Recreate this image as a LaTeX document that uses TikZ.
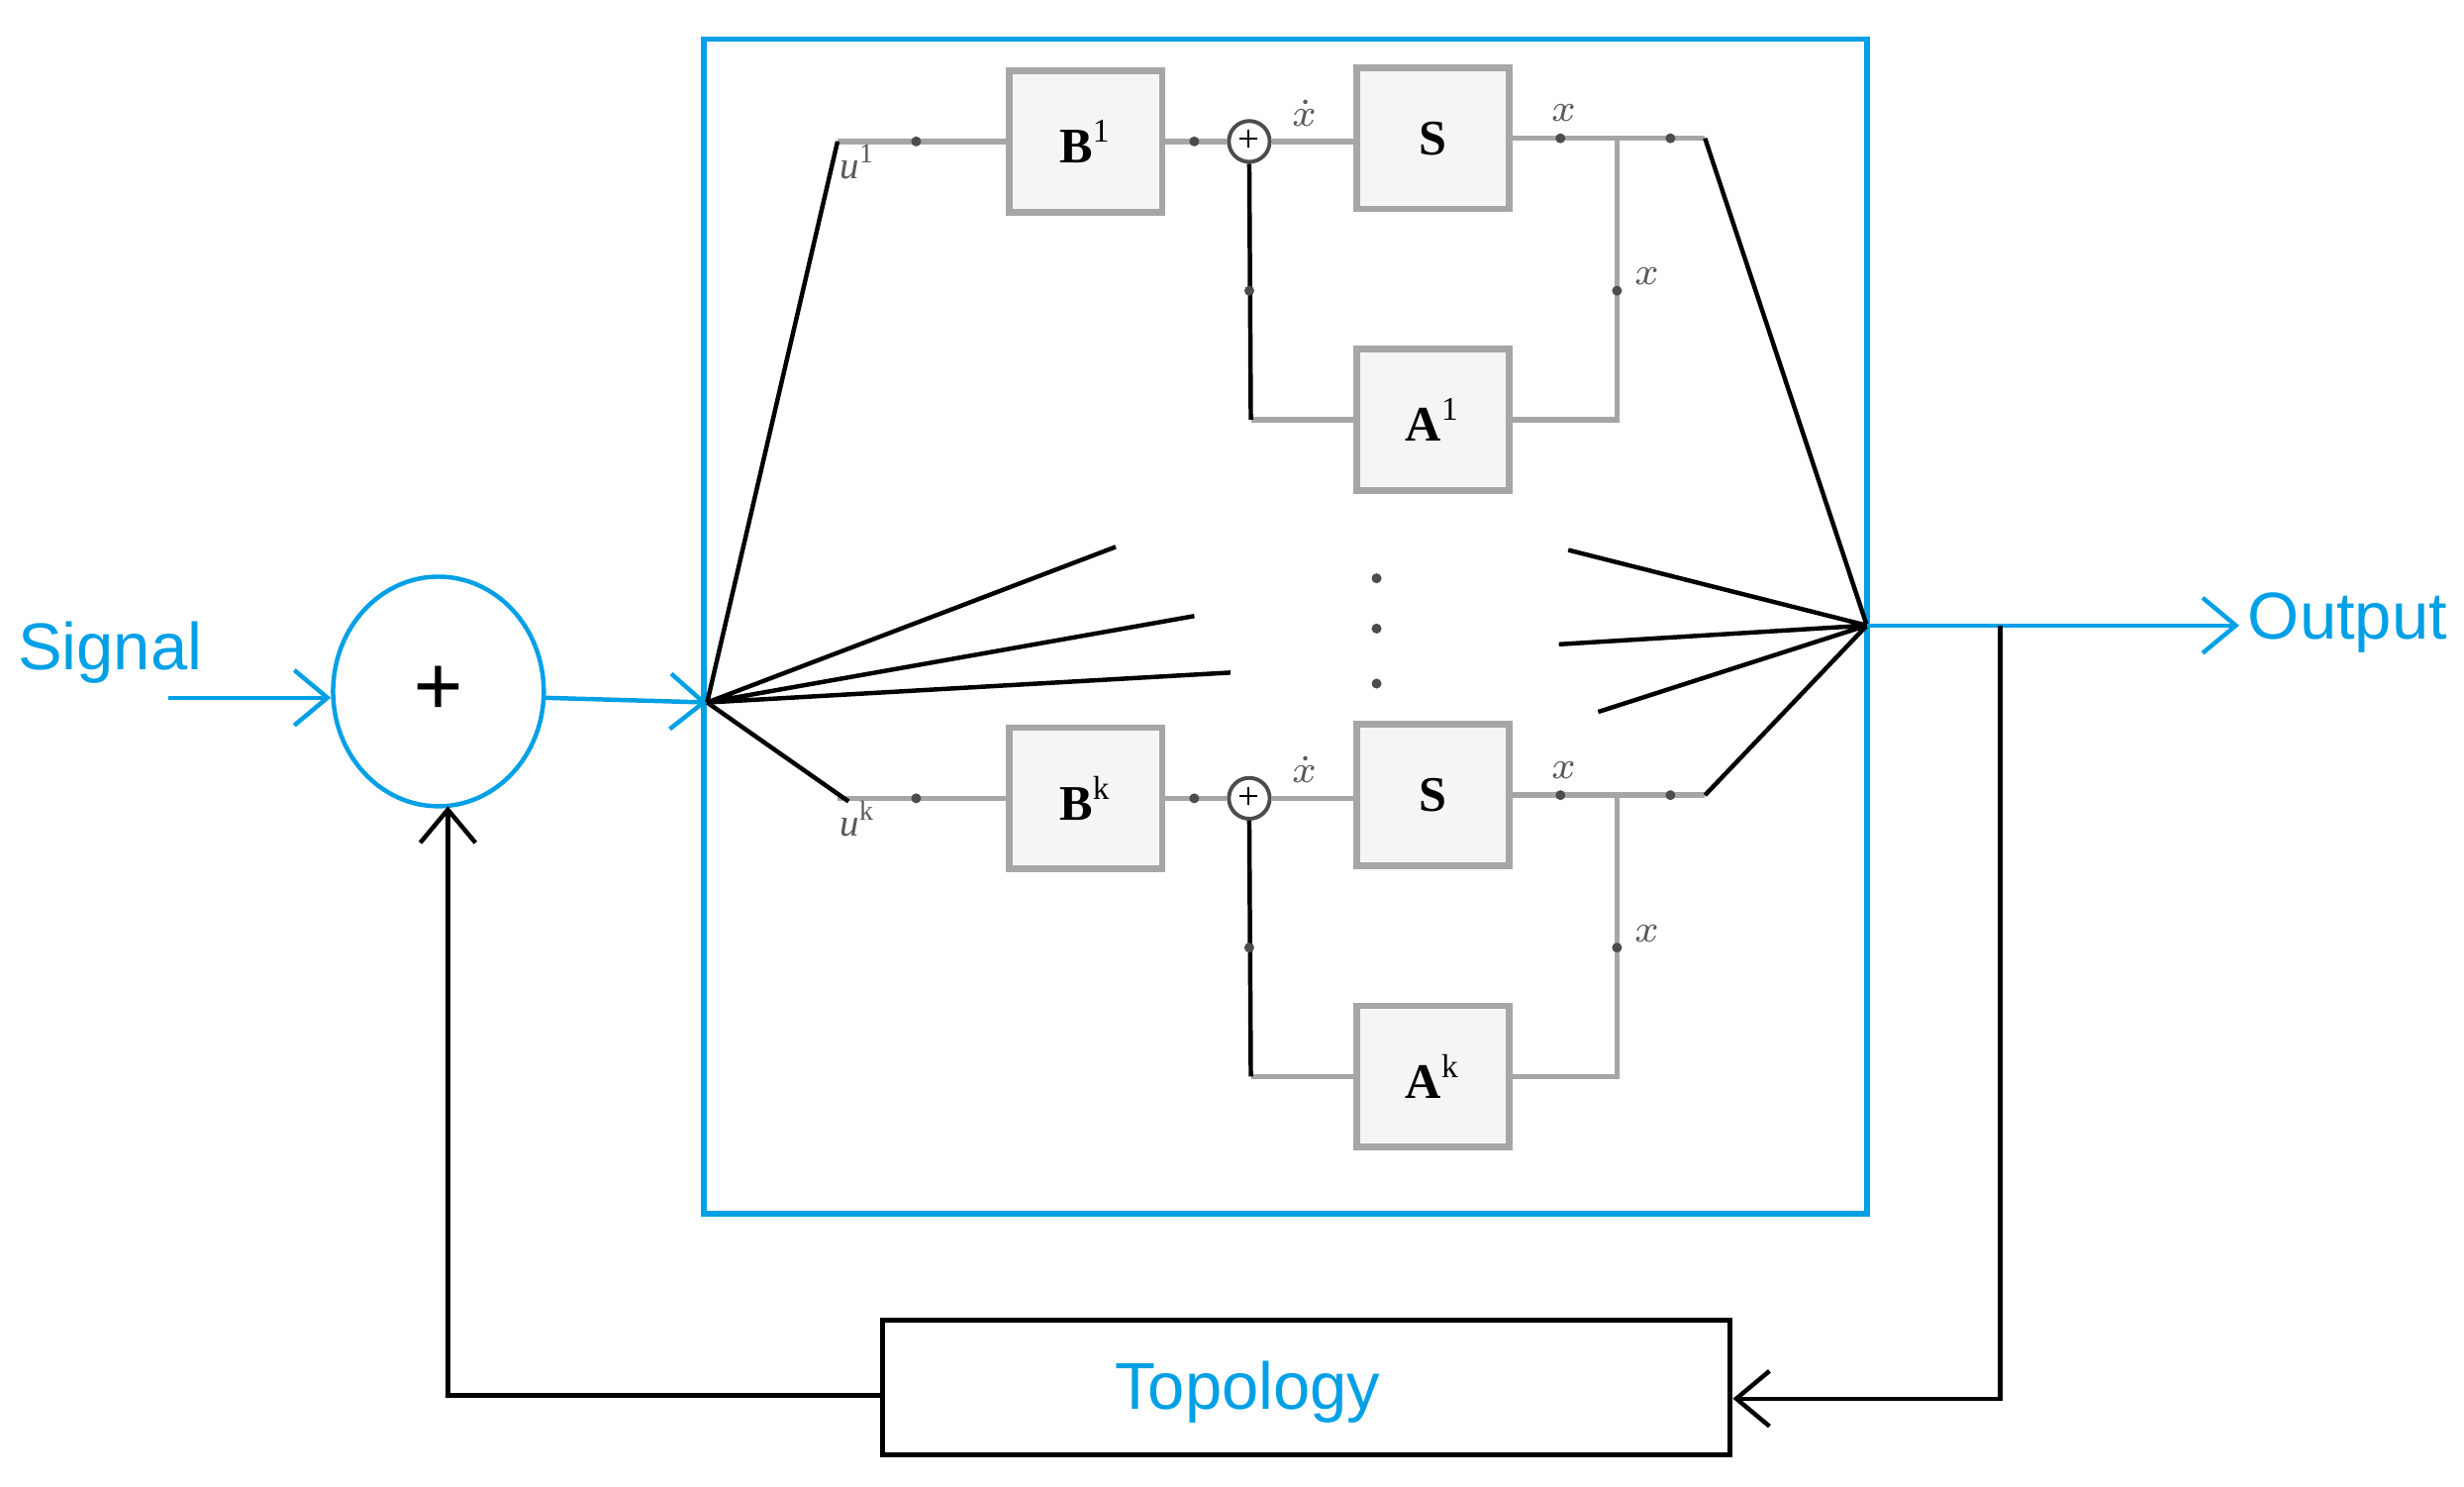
\documentclass[tikz,border=0pt]{standalone}
\usepackage{fontspec}
\setmainfont{Liberation Serif}
\newfontfamily\sans{Liberation Sans}
\usetikzlibrary{arrows.meta,shapes.geometric}
\definecolor{cb}{RGB}{0,160,230}
\begin{document}
\begin{tikzpicture}[x=0.01cm,y=-0.01cm,
  gbox/.style={draw=gray!70,fill=gray!8,line width=1.2pt,minimum width=0.97cm,minimum height=0.9cm,inner sep=0pt,font=\bfseries\fontsize{9}{10}\selectfont},
  gl/.style={draw=gray!70,line width=1pt},
  bl/.style={draw=black,line width=0.8pt},
  tip/.style={-{Straight Barb[length=6pt,width=10pt]}},
  lab/.style={font=\itshape\fontsize{7}{8}\selectfont,text=gray!70!black,inner sep=1pt},
  dt/.style={circle,fill=gray!60!black,inner sep=0pt,minimum size=1.8pt},
  bt/.style={text=cb,font=\sans\fontsize{12}{14}\selectfont}]
\useasboundingbox (0,0) rectangle (1568,946);
% signal part
\node[bt] (sig) at (70,415) {Signal};
\coordinate (sigs) at (107,444);
\node[draw=cb,ellipse,minimum width=1.34cm,minimum height=1.46cm,line width=0.8pt] (sum) at (279,440) {};
\node[font=\bfseries\fontsize{16}{16}\selectfont] (plus) at (279,440) {+};
\draw[cb,line width=0.8pt,tip] (sigs) -- (sum.west |- sigs);
\coordinate (F) at (450,447);
\draw[cb,line width=0.8pt,tip] (346,444) -- (F);
\node[draw=cb,line width=1pt,minimum width=7.4cm,minimum height=7.47cm,inner sep=0pt] (frame) at (818,398.5) {};
% branches
\foreach \dy/\s/\n in {0/1/a,418/k/b}{
  \begin{scope}[yshift=-\dy*0.01cm]
  \coordinate (u\n) at (533,90);
  \node[gbox] (B\n) at (691,90) {B$^{\mathrm{\s}}$};
  \node[draw=gray!60!black,circle,minimum size=0.26cm,inner sep=0pt,line width=0.7pt,font=\fontsize{7}{7}\selectfont] (c\n) at (795,90) {+};
  \node[gbox] (S\n) at (912,88) {S};
  \node[gbox] (A\n) at (912,267) {A$^{\mathrm{\s}}$};
  \coordinate (o\n) at (1085,88);
  \coordinate (j\n) at (1029,88);
  \draw[gl] (u\n) -- (B\n.west |- u\n);
  \draw[gl] (B\n.east) -- (c\n.west);
  \draw[gl] (c\n.east) -- (S\n.west |- c\n);
  \draw[gl] (S\n.east) -- (o\n);
  \draw[gl] (j\n) -- (1029,267) -- (A\n.east);
  \draw[gl] (A\n.west) -- (796,267);
  \draw[bl] (796,267) -- (c\n.south);
  \node[lab] (ul\n) at (546,103) {u$^{\mathrm{\s}}$};
  \node[lab] (xd\n) at (830,72) {$\dot{x}$};
  \node[lab] (xo\n) at (995,72) {$x$};
  \node[lab] (xr\n) at (1048,176) {$x$};
  \foreach \p in {(583,90),(760,90),(993,88),(1063,88),(1029,185),(795,185)} \node[dt] at \p {};
  \end{scope}
}
% fans
\coordinate (O) at (1188,398);
\coordinate (f1) at (710,348);
\coordinate (f2) at (760,392);
\coordinate (f3) at (783,428);
\coordinate (g1) at (998,350);
\coordinate (g2) at (992,410);
\coordinate (g3) at (1017,453);
\draw[bl] (F) -- (ua) (F) -- (f1) (F) -- (f2) (F) -- (f3);
\draw[bl] (F) -- (540,510);
\draw[bl] (oa) -- (O) (ob) -- (O) (g1) -- (O) (g2) -- (O) (g3) -- (O);
\foreach \yy in {368,400,435} \node[circle,fill=black!70,inner sep=0pt,minimum size=1.8pt] at (876,\yy) {};
% output
\node[bt] (out) at (1494,396) {Output};
\draw[cb,line width=0.8pt,tip] (O) -- (1425,398);
% feedback
\node[draw,line width=0.9pt,minimum width=5.39cm,minimum height=0.86cm,inner sep=0pt] (topo) at (831.5,883) {};
\node[bt] (topot) at (794,886) {Topology};
\draw[bl,tip] (1273,398) -- (1273,890) -- (topo.east |- 0,890);
\draw[bl,tip] (topo.west |- 0,888) -- (285,888) -- (285,513);
\end{tikzpicture}
\end{document}
